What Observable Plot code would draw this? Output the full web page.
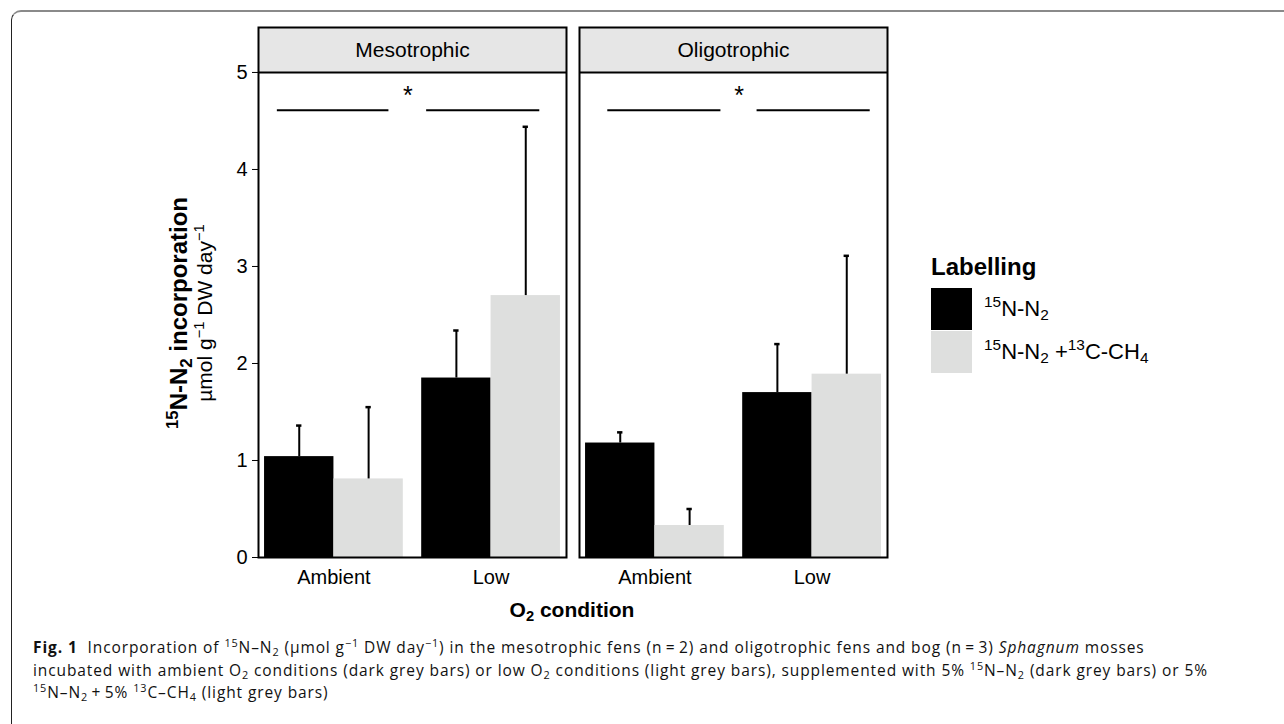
<!DOCTYPE html>
<html>
<head>
<meta charset="utf-8">
<script src="https://cdn.jsdelivr.net/npm/d3@7"></script>
<script src="https://cdn.jsdelivr.net/npm/@observablehq/plot@0.6"></script>
<style>
  html, body { margin: 0; padding: 0; background: #fff; }
  #page { position: relative; width: 1284px; height: 724px; overflow: hidden; font-family: "Liberation Sans", Arial, sans-serif; color: #000; }
  #border { position: absolute; left: 11px; top: 10px; width: 1300px; height: 760px; border-top: 2px solid #8a8a8a; border-left: 1.5px solid #222; border-top-left-radius: 10px; }
  #chart { position: absolute; left: 0; top: 0; }
  sup, sub { font-size: 70%; line-height: 0; position: relative; vertical-align: baseline; }
  sup { top: -0.55em; }
  sub { top: 0.3em; }
  #ytitle { position: absolute; left: 191px; top: 313px; transform: translate(-50%, -50%) rotate(-90deg); white-space: nowrap; text-align: center; line-height: 1.12; }
  #ytitle .l1 { font-weight: bold; font-size: 24px; }
  #ytitle .l2 { font-size: 21px; }
  #xtitle { position: absolute; left: 572px; top: 610px; transform: translate(-50%, -50%); font-weight: bold; font-size: 21px; white-space: nowrap; }
  #legend { position: absolute; left: 931px; top: 253px; }
  #legend .title { font-weight: bold; font-size: 24px; margin-bottom: 6px; }
  #legend .row { display: flex; align-items: center; height: 43px; }
  #legend .key { width: 41px; height: 42px; margin-right: 12px; }
  #legend .lab { font-size: 22px; white-space: nowrap; }
  #caption { position: absolute; left: 33px; top: 636px; font-family: "Open Sans", "Noto Sans", sans-serif; font-size: 15.5px; letter-spacing: 0.9px; line-height: 22.5px; white-space: nowrap; color: #111; }
</style>
</head>
<body>
<div id="page">
  <div id="border"></div>
  <div id="chart"></div>
  <div id="ytitle"><div class="l1"><sup>15</sup>N-N<sub>2</sub> incorporation</div><div class="l2">µmol g<sup>−1</sup> DW day<sup>−1</sup></div></div>
  <div id="xtitle">O<sub>2</sub> condition</div>
  <div id="legend"></div>
  <div id="caption">
    <div><b>Fig. 1</b>&nbsp; Incorporation of <sup>15</sup>N–N<sub>2</sub> (µmol g<sup>−1</sup> DW day<sup>−1</sup>) in the mesotrophic fens (n&#8201;=&#8201;2) and oligotrophic fens and bog (n&#8201;=&#8201;3) <i>Sphagnum</i> mosses</div>
    <div>incubated with ambient O<sub>2</sub> conditions (dark grey bars) or low O<sub>2</sub> conditions (light grey bars), supplemented with 5% <sup>15</sup>N–N<sub>2</sub> (dark grey bars) or 5%</div>
    <div><sup>15</sup>N–N<sub>2</sub>&#8201;+&#8201;5% <sup>13</sup>C–CH<sub>4</sub> (light grey bars)</div>
  </div>
</div>
<script>
// ---- data ----
const panels = ["Mesotrophic", "Oligotrophic"];
const conditions = ["Ambient", "Low"];
const labellings = ["15N-N2", "15N-N2 + 13C-CH4"];
const labellingColors = ["#000000", "#dedfde"];
// order: Ambient/15N, Ambient/15N+13C, Low/15N, Low/15N+13C
const mesoMeans = [1.04, 0.81, 1.85, 2.70];
const mesoErr   = [0.32, 0.74, 0.49, 1.74];
const oligoMeans = [1.18, 0.33, 1.70, 1.89];
const oligoErr   = [0.11, 0.17, 0.50, 1.22];
const yTicks = [0, 1, 2, 3, 4, 5];
// significance annotation (x in condition units, y in value units)
const sigY = 4.61;
const sigSegments = [
  {panel: "Mesotrophic", x1: 0.64, x2: 1.35},
  {panel: "Mesotrophic", x1: 1.59, x2: 2.31},
  {panel: "Oligotrophic", x1: 0.70, x2: 1.42},
  {panel: "Oligotrophic", x1: 1.65, x2: 2.37}
];
const sigStars = [
  {panel: "Mesotrophic", x: 1.47, label: "*"},
  {panel: "Oligotrophic", x: 1.535, label: "*"}
];

// ---- table ----
const rows = [];
[[panels[0], mesoMeans, mesoErr], [panels[1], oligoMeans, oligoErr]].forEach(([p, m, e]) => {
  conditions.forEach((c, ci) => {
    labellings.forEach((l, li) => {
      const k = ci * 2 + li;
      rows.push({panel: p, condition: c, ci: ci + 1, li, labelling: l, mean: m[k], err: e[k]});
    });
  });
});

const groupW = 0.883;
const barW = groupW / 2;
const x1Of = d => d.ci - groupW / 2 + d.li * barW;
const x2Of = d => x1Of(d) + barW;
const cOf = d => x1Of(d) + barW / 2;
const capHalf = 0.017;

const xDomain = [0.52, 2.48];
const yMax = 5;
const stripH = 0.4635; // strip height in value units
const yDomain = [0, yMax + stripH];

const chart = Plot.plot({
  width: 900,
  height: 600,
  marginTop: 27,
  marginBottom: 43,
  marginLeft: 258,
  marginRight: 13,
  style: {fontFamily: "Liberation Sans, Arial, sans-serif", fontSize: "20px", color: "#000", background: "transparent"},
  fx: {domain: panels, paddingInner: 13 / 321, paddingOuter: 0, axis: null, label: null},
  x: {domain: xDomain, ticks: [1, 2], tickFormat: d => conditions[d - 1], tickSize: 0, tickPadding: 12, label: null},
  y: {domain: yDomain, ticks: yTicks, tickFormat: d => String(d), tickSize: 6, tickPadding: 5, label: null},
  color: {domain: labellings, range: labellingColors},
  marks: [
    Plot.rect(panels, {fx: d => d, x1: xDomain[0], x2: xDomain[1], y1: yMax, y2: yDomain[1], fill: "#e6e6e6"}),
    Plot.rectY(rows, {fx: "panel", x1: x1Of, x2: x2Of, y: "mean", fill: "labelling"}),
    Plot.ruleX(rows, {fx: "panel", x: cOf, y1: "mean", y2: d => d.mean + d.err, stroke: "#000", strokeWidth: 2}),
    Plot.ruleY(rows, {fx: "panel", y: d => d.mean + d.err, x1: d => cOf(d) - capHalf, x2: d => cOf(d) + capHalf, stroke: "#000", strokeWidth: 2.5}),
    Plot.ruleY(sigSegments, {fx: "panel", y: sigY, x1: "x1", x2: "x2", stroke: "#000", strokeWidth: 2}),
    Plot.text(sigStars, {fx: "panel", x: "x", y: sigY, dy: -14, text: "label", fontSize: 25}),
    Plot.text(panels, {fx: d => d, x: (xDomain[0] + xDomain[1]) / 2, y: yMax + stripH / 2, text: d => d, fontSize: 21}),
    Plot.ruleY([yMax], {stroke: "#000", strokeWidth: 2}),
    Plot.frame({stroke: "#000", strokeWidth: 2})
  ]
});
document.getElementById("chart").appendChild(chart);

// legend
const legend = document.getElementById("legend");
const lt = document.createElement("div");
lt.className = "title";
lt.textContent = "Labelling";
legend.appendChild(lt);
const legendHTML = ["<sup>15</sup>N-N<sub>2</sub>", "<sup>15</sup>N-N<sub>2</sub> +<sup>13</sup>C-CH<sub>4</sub>"];
labellings.forEach((l, i) => {
  const row = document.createElement("div");
  row.className = "row";
  const key = document.createElement("div");
  key.className = "key";
  key.style.background = labellingColors[i];
  const lab = document.createElement("div");
  lab.className = "lab";
  lab.innerHTML = legendHTML[i];
  row.appendChild(key); row.appendChild(lab);
  legend.appendChild(row);
});
</script>
</body>
</html>
